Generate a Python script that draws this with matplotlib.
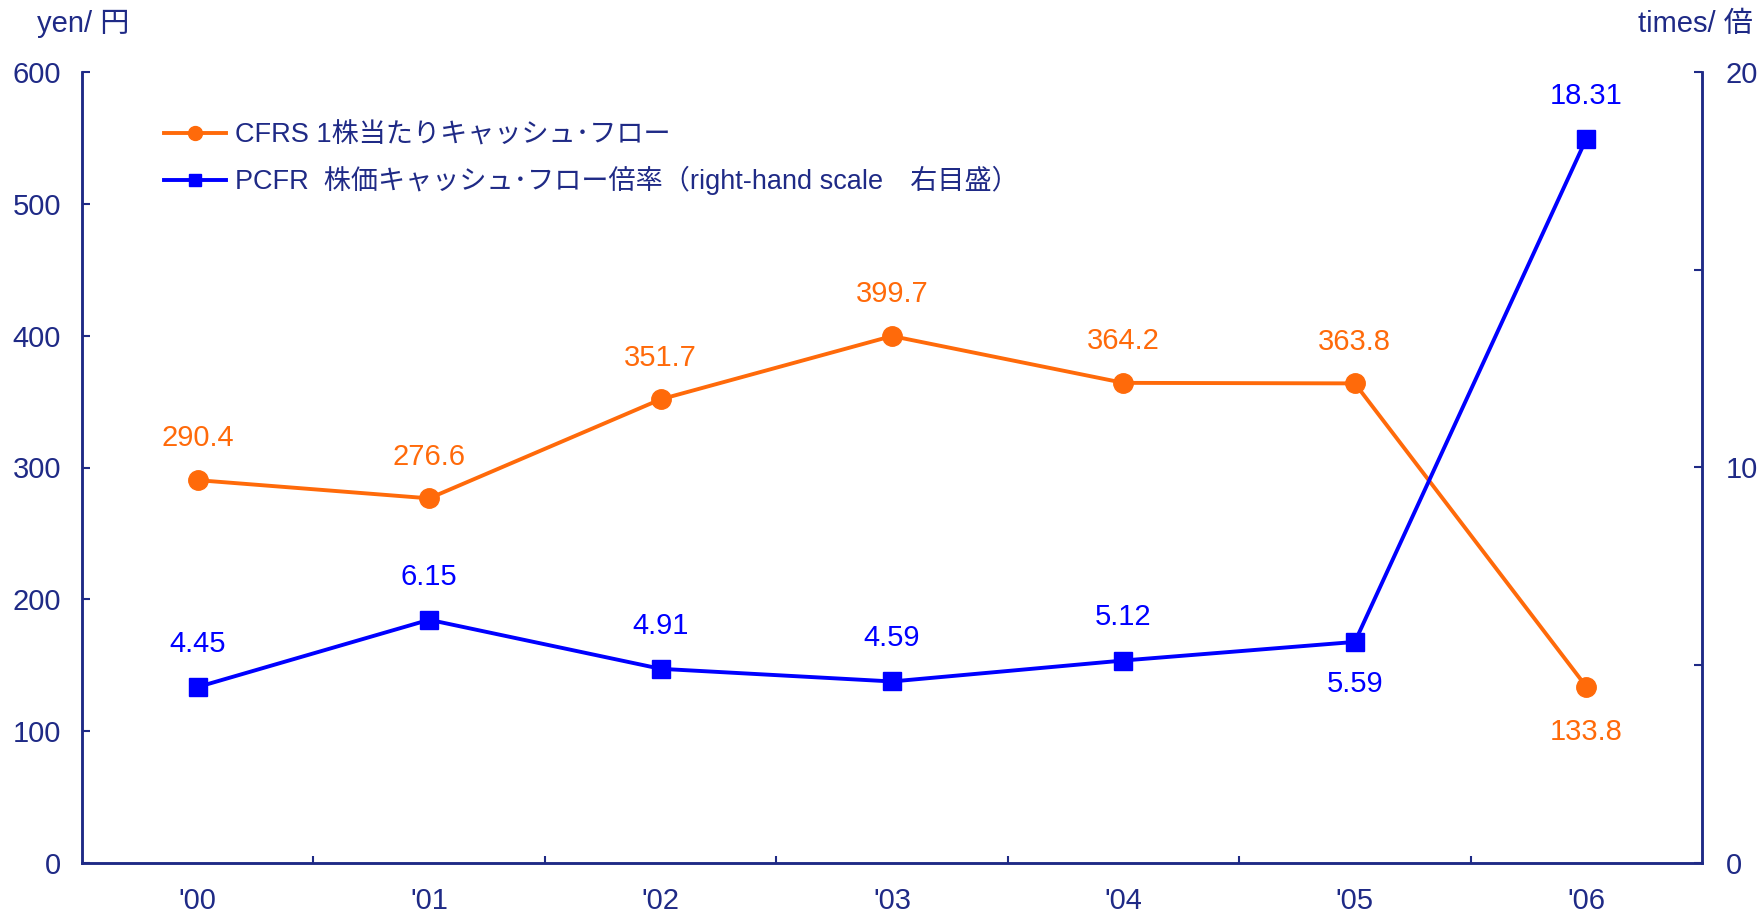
import matplotlib
matplotlib.use("Agg")
import matplotlib.pyplot as plt
from matplotlib.ticker import MultipleLocator, FixedLocator, NullFormatter

plt.rcParams['font.family'] = ['Liberation Sans', 'Noto Sans CJK JP', 'DejaVu Sans']

years = ["'00", "'01", "'02", "'03", "'04", "'05", "'06"]
cfrs = [290.4, 276.6, 351.7, 399.7, 364.2, 363.8, 133.8]
pcfr = [4.45, 6.15, 4.91, 4.59, 5.12, 5.59, 18.31]
cfrs_label_below = [False, False, False, False, False, False, True]
pcfr_label_below = [False, False, False, False, False, True, False]

navy = '#1F2A86'
orange = '#FF6A0A'
blue = '#0000FF'
fs = 21

fig = plt.figure(figsize=(17.64, 9.15), dpi=100)
ax = fig.add_axes([82 / 1764, 52 / 915, 1620 / 1764, 791 / 915])
ax2 = ax.twinx()

x = list(range(len(years)))

# CFRS on the left scale, PCFR on the right scale
l1, = ax.plot(x, cfrs, color=orange, lw=2.8, marker='o', ms=14,
              label='CFRS 1株当たりキャッシュ･フロー')
l2, = ax2.plot(x, pcfr, color=blue, lw=2.8, marker='s', ms=13,
               label='PCFR  株価キャッシュ･フロー倍率（right-hand scale　右目盛）')

for xi, v, below in zip(x, cfrs, cfrs_label_below):
    ax.annotate(f'{v:.1f}', (xi, v), xytext=(0, -33 if below else 30),
                textcoords='offset points', ha='center', va='center',
                color=orange, fontsize=fs)
for xi, v, below in zip(x, pcfr, pcfr_label_below):
    ax2.annotate(f'{v:.2f}', (xi, v), xytext=(0, -30 if below else 31),
                 textcoords='offset points', ha='center', va='center',
                 color=blue, fontsize=fs)

ax.set_xlim(-0.5, 6.5)
ax.set_ylim(0, 600)
ax2.set_ylim(0, 20)

ax.yaxis.set_major_locator(MultipleLocator(100))
ax2.yaxis.set_major_locator(FixedLocator([0, 10, 20]))
ax2.yaxis.set_minor_locator(FixedLocator([5, 15]))
ax2.yaxis.set_minor_formatter(NullFormatter())

ax.set_xticks(x)
ax.set_xticklabels(years)
ax.set_xticks([i + 0.5 for i in range(6)], minor=True)

for a in (ax, ax2):
    for s in a.spines.values():
        s.set_color(navy)
        s.set_linewidth(1.8)
    a.spines['top'].set_visible(False)

ax.tick_params(axis='x', which='major', length=0, pad=17, labelsize=fs, labelcolor=navy)
ax.tick_params(axis='x', which='minor', direction='in', length=5, width=1.5, color=navy)
ax.tick_params(axis='y', direction='in', length=6, width=1.5, color=navy,
               pad=15, labelsize=fs, labelcolor=navy)
ax2.tick_params(axis='y', which='both', direction='in', length=6, width=1.5, color=navy,
                pad=17, labelsize=fs, labelcolor=navy)

leg = ax.legend(handles=[l1, l2], loc='upper left', bbox_to_anchor=(0.044, 0.95),
                frameon=False, fontsize=19.5, handlelength=2.3, handletextpad=0.3,
                labelspacing=0.65, borderaxespad=0)
for t in leg.get_texts():
    t.set_color(navy)
leg.legend_handles[0].set_markersize(10)
leg.legend_handles[1].set_markersize(9)

fig.text(83 / 1764, 1 - 24 / 915, 'yen/ 円', ha='center', va='center',
         color=navy, fontsize=fs)
fig.text(1753 / 1764, 1 - 24 / 915, 'times/ 倍', ha='right', va='center',
         color=navy, fontsize=fs)

fig.savefig('out.png', dpi=100)
